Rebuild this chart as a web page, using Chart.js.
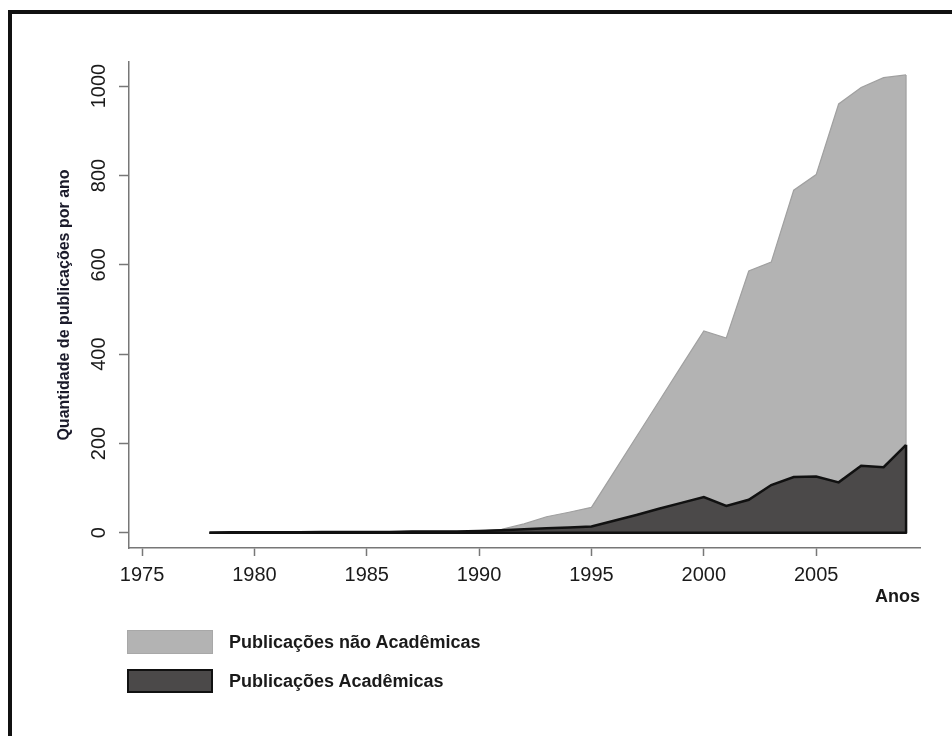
<!DOCTYPE html>
<html lang="pt">
<head>
    <meta charset="UTF-8">
    <title>Publicações por ano</title>
    <style>
        body {
            margin: 0;
            background-color: #fff;
            font-family: 'Liberation Sans', Arial, sans-serif;
        }
        .page {
            position: relative;
            width: 952px;
            height: 736px;
            overflow: hidden;
            background-color: #fff;
        }
        .frame {
            position: absolute;
            left: 8px;
            top: 10px;
            width: 1000px;
            height: 800px;
            border-left: 4px solid #111;
            border-top: 4px solid #111;
        }
        #chart {
            position: absolute;
            left: 0;
            top: 0;
        }
        .legend-item {
            position: absolute;
            left: 127px;
            display: flex;
            align-items: center;
        }
        .legend-box {
            width: 86px;
            height: 24px;
            box-sizing: border-box;
        }
        .legend-text {
            margin-left: 16px;
            font-size: 18px;
            font-weight: bold;
            color: #1a1a1a;
        }
    </style>
    <script src="https://cdn.jsdelivr.net/npm/chart.js"></script>
</head>
<body>
    <div class="page">
        <div class="frame"></div>
        <canvas id="chart" width="952" height="736"></canvas>
        <div id="legend"></div>
    </div>

    <script>
        // dados
        const years = [1978, 1979, 1980, 1981, 1982, 1983, 1984, 1985, 1986, 1987,
                       1988, 1989, 1990, 1991, 1992, 1993, 1994, 1995, 1996, 1997,
                       1998, 1999, 2000, 2001, 2002, 2003, 2004, 2005, 2006, 2007,
                       2008, 2009];
        const academicas = [0, 1, 1, 1, 1, 2, 2, 2, 2, 3,
                            3, 3, 4, 6, 8, 10, 12, 14, 27, 40,
                            54, 67, 80, 60, 74, 107, 125, 126, 113, 150,
                            147, 197];
        const naoAcademicas = [0, 0, 0, 0, 0, 0, 0, 0, 0, 0,
                               0, 0, 0, 2, 12, 26, 34, 43, 109, 175,
                               240, 306, 372, 376, 512, 499, 642, 676, 847, 847,
                               872, 828];
        const seriesLabels = ['Publicações Acadêmicas', 'Publicações não Acadêmicas'];
        const xTicks = [1975, 1980, 1985, 1990, 1995, 2000, 2005];
        const yTicks = [0, 200, 400, 600, 800, 1000];

        const toPoints = vals => vals.map((v, i) => ({ x: years[i], y: v }));

        // bordas verticais e base das áreas
        const edgePlugin = {
            id: 'edges',
            afterDatasetsDraw(chart) {
                const ctx = chart.ctx;
                const xs = chart.scales.x, ys = chart.scales.y;
                const last = years.length - 1;
                const xr = xs.getPixelForValue(years[last]);
                const x0 = xs.getPixelForValue(years[0]);
                const yBase = ys.getPixelForValue(0);
                const yAc = ys.getPixelForValue(academicas[last]);
                const yTot = ys.getPixelForValue(academicas[last] + naoAcademicas[last]);
                ctx.save();
                ctx.strokeStyle = '#a0a0a0';
                ctx.lineWidth = 1.2;
                ctx.beginPath();
                ctx.moveTo(xr, yTot);
                ctx.lineTo(xr, yAc);
                ctx.stroke();
                ctx.strokeStyle = '#111';
                ctx.lineWidth = 2.5;
                ctx.lineJoin = 'round';
                ctx.beginPath();
                ctx.moveTo(x0, yBase);
                ctx.lineTo(xr, yBase);
                ctx.lineTo(xr, yAc);
                ctx.stroke();
                ctx.restore();
            }
        };

        const chart = new Chart(document.getElementById('chart').getContext('2d'), {
            type: 'line',
            data: {
                datasets: [
                    {
                        label: seriesLabels[0],
                        data: toPoints(academicas),
                        borderColor: '#111',
                        borderWidth: 2.5,
                        backgroundColor: '#4b4949',
                        fill: 'origin',
                        pointRadius: 0,
                        tension: 0
                    },
                    {
                        label: seriesLabels[1],
                        data: toPoints(naoAcademicas),
                        borderColor: '#a0a0a0',
                        borderWidth: 1.2,
                        backgroundColor: '#b3b3b3',
                        fill: '-1',
                        pointRadius: 0,
                        tension: 0
                    }
                ]
            },
            options: {
                responsive: false,
                animation: false,
                layout: {
                    padding: { left: 55, top: 62, right: 32, bottom: 128 }
                },
                plugins: {
                    legend: { display: false },
                    tooltip: { enabled: false }
                },
                scales: {
                    x: {
                        type: 'linear',
                        min: 1974.42,
                        max: 2009.62,
                        afterBuildTicks: s => { s.ticks = xTicks.map(v => ({ value: v })); },
                        afterFit: s => { s.height = 60; },
                        grid: {
                            drawOnChartArea: false,
                            drawTicks: true,
                            tickLength: 8,
                            tickWidth: 1.5,
                            tickColor: '#777'
                        },
                        border: { display: true, color: '#777', width: 1.5 },
                        ticks: {
                            padding: 7,
                            maxRotation: 0,
                            color: '#1a1a1a',
                            font: { family: "'Liberation Sans', Arial", size: 20 },
                            callback: v => String(v)
                        },
                        title: {
                            display: true,
                            text: 'Anos',
                            align: 'end',
                            padding: 0,
                            color: '#1a1a1a',
                            font: { family: "'Liberation Sans', Arial", size: 18, weight: 'bold' }
                        }
                    },
                    y: {
                        stacked: true,
                        min: -34,
                        max: 1054,
                        afterBuildTicks: s => { s.ticks = yTicks.map(v => ({ value: v })); },
                        afterFit: s => { s.width = 74; },
                        grid: {
                            drawOnChartArea: false,
                            drawTicks: true,
                            tickLength: 10,
                            tickWidth: 1.5,
                            tickColor: '#777'
                        },
                        border: { display: true, color: '#777', width: 1.5 },
                        ticks: {
                            padding: -3,
                            minRotation: 90,
                            maxRotation: 90,
                            crossAlign: 'center',
                            color: '#1a1a1a',
                            font: { family: "'Liberation Sans', Arial", size: 20 },
                            callback: v => String(v)
                        },
                        title: {
                            display: true,
                            text: 'Quantidade de publicações por ano',
                            padding: 0,
                            color: '#1a1a2a',
                            font: { family: "'Liberation Sans', Arial", size: 16, weight: 'bold' }
                        }
                    }
                }
            },
            plugins: [edgePlugin]
        });

        // legenda em coluna, abaixo do gráfico
        const legend = document.getElementById('legend');
        const legendRows = [
            { idx: 1, top: 630, fill: '#b3b3b3', border: '1px solid #a8a8a8' },
            { idx: 0, top: 669, fill: '#4b4949', border: '2px solid #111' }
        ];
        legendRows.forEach(r => {
            const ds = chart.data.datasets[r.idx];
            const item = document.createElement('div');
            item.className = 'legend-item';
            item.style.top = r.top + 'px';
            item.innerHTML = `<div class="legend-box" style="background:${r.fill};border:${r.border}"></div>
                              <span class="legend-text">${ds.label}</span>`;
            legend.appendChild(item);
        });
    </script>
</body>
</html>
